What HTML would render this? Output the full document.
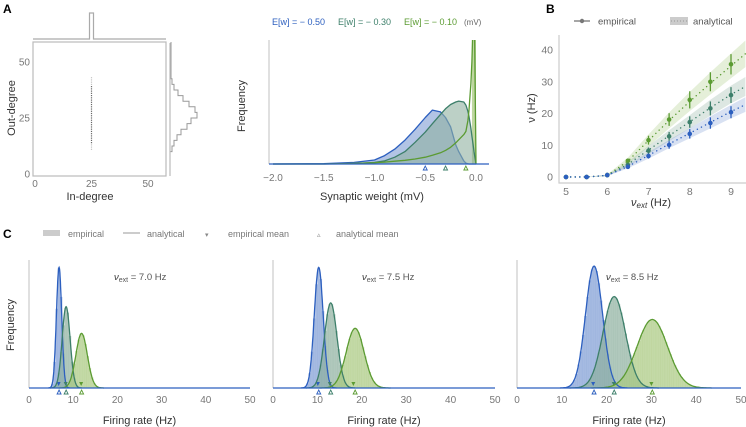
<!DOCTYPE html>
<html><head><meta charset="utf-8"><style>
html,body{margin:0;padding:0;background:#fff;}
svg{display:block;font-family:"Liberation Sans","DejaVu Sans",sans-serif;}
.tick{fill:#777;font-size:10px;}
.tickb{fill:#777;font-size:10.5px;}
.lab{fill:#333;font-size:11px;}
.pl{fill:#000;font-size:12px;font-weight:bold;}
</style></head><body>
<svg id="fig" width="746" height="427" viewBox="0 0 746 427" xmlns="http://www.w3.org/2000/svg">
<text class="pl" x="3" y="13">A</text>
<text class="pl" x="546" y="13">B</text>
<text class="pl" x="3" y="238">C</text>
</svg>
<script>
// ---------- data ----------
const inDegreeValue = 25;
const outDegreeValues = [11,12,13,14,15,16,17,18,19,20,21,22,23,24,25,26,27,28,29,30,31,32,33,34,35,36,37,38,39,40,41,42,43];
const outHistBins = [10,12.5,15,17.5,20,22.5,25,27.5,30,32.5,35,37.5,40,42.5];
const outHistCounts = [1,3,6,10,16,20,26,24,18,12,7,3,1,0];
const outTicks = [0,25,50];

const wX = [-2,-1.5,-1.2,-1.0,-0.9,-0.8,-0.7,-0.6,-0.5,-0.43,-0.35,-0.3,-0.25,-0.2,-0.17,-0.12,-0.1,-0.08,-0.07,-0.05,-0.04,-0.03,-0.02,0];
const blueW = [0,0.01,0.05,0.13,0.27,0.48,0.77,1.12,1.5,1.74,1.68,1.5,1.2,0.62,0.4,0.1,0.03,0.01,0,0,0,0,0,0];
const tealW = [0,0,0.01,0.05,0.1,0.22,0.4,0.7,1.03,1.3,1.6,1.78,1.92,2.0,2.03,2.0,1.9,1.7,1.55,1.15,0.9,0.65,0.4,0];
const greenW = [0,0,0.02,0.04,0.06,0.09,0.12,0.16,0.22,0.28,0.36,0.44,0.54,0.68,0.78,0.95,1.05,1.4,1.7,2.6,3.3,4.5,6,0];
const wTicks = [-2.0,-1.5,-1.0,-0.5,0.0];
const wMeans = [-0.5,-0.3,-0.1];
const wLegend = ["E[w] = \u2212 0.50","E[w] = \u2212 0.30","E[w] = \u2212 0.10"];

const nuExt = [5,5.5,6,6.5,7,7.5,8,8.5,9];
const empBlue = [0,0,0.6,3.2,6.6,10.1,13.6,17.0,20.4];
const empTeal = [0,0,0.6,3.8,8.3,12.8,17.3,21.6,25.8];
const empGreen = [0,0,0.6,5.1,11.6,18.1,24.3,30.0,35.5];
const errBlue = [0,0,0.2,0.5,0.8,1.2,1.5,1.8,1.9];
const errTeal = [0,0,0.2,0.6,1.0,1.4,1.8,2.2,2.5];
const errGreen = [0,0,0.2,0.7,1.4,2.0,2.7,3.0,3.2];
const nuAna = [5,5.5,6,6.5,7,7.5,8,8.5,9,9.35];
const anaBlue = [0,0,0.5,3.3,6.8,10.4,13.8,17.2,20.6,22.8];
const anaTeal = [0,0,0.5,4.0,8.5,13.0,17.4,21.8,26.0,28.5];
const anaGreen = [0,0,0.5,5.0,11.5,17.8,23.8,29.5,35.0,38.8];
const bandBlue = [0,0,0.2,0.6,1.0,1.3,1.6,1.9,2.1,2.3];
const bandTeal = [0,0,0.2,0.8,1.3,1.7,2.1,2.5,2.8,3.0];
const bandGreen = [0,0,0.3,1.1,1.9,2.5,3.0,3.5,3.9,4.2];
const nuTicks = [5,6,7,8,9];
const rateTicks = [0,10,20,30,40];

const cTitles = ["7.0 Hz","7.5 Hz","8.5 Hz"];
const cMeans = [[6.8,8.4,11.9],[10.3,13.0,18.5],[17.2,21.7,30.2]];
const cSds = [[0.6,0.9,1.3],[1.0,1.4,2.0],[1.9,2.5,3.4]];
const cPeaks = [[0.95,0.64,0.43],[0.95,0.67,0.47],[0.96,0.72,0.54]];
const cEmpMeans = [[6.7,8.3,11.8],[10.1,12.8,18.1],[17.0,21.6,30.0]];
const fTicks = [0,10,20,30,40,50];

// ---------- helpers ----------
const NS = "http://www.w3.org/2000/svg";
const svg = document.getElementById('fig');
const COL = ['#2c5fbf','#3d7f6a','#5b9b32'];
const FILL = ['#7f9cd4','#8fb0a0','#a9c980'];
function mk(tag, attrs, parent){const e=document.createElementNS(NS,tag);for(const k in attrs)e.setAttribute(k,attrs[k]);(parent||svg).appendChild(e);return e;}
function txt(s, attrs){const e=mk('text',attrs);e.textContent=s;return e;}
function lin(d0,d1,r0,r1){return v=>r0+(v-d0)*(r1-r0)/(d1-d0);}

// ---------- Panel A left ----------
{
const sx = lin(0,50,35,148), sy = lin(0,50,174,62);
const box = mk('rect',{x:33,y:42,width:133,height:134,fill:'none',stroke:'#bbb','stroke-width':1.2});


outDegreeValues.forEach(v=>{
  const op = (v<14||v>39)?0.35:0.9;
  const d = mk('rect',{x:sx(inDegreeValue)-0.6,y:sy(v)-0.6,width:1.2,height:1.2,fill:'#555',opacity:op});
  
  
});
outTicks.forEach(t=>{
  const a = txt(String(t),{class:'tick',x:sx(t),y:187,'text-anchor':'middle'});
  
  
  const b = txt(String(t),{class:'tick',x:30,y:sy(t)+3.5,'text-anchor':'end'});
  
  
});
const xl = txt('In-degree',{class:'lab',x:90,y:200,'text-anchor':'middle'});


const yl = txt('Out-degree',{class:'lab',x:0,y:0,'text-anchor':'middle',transform:'translate(15,108) rotate(-90)'});


const tp = mk('path',{d:`M33,39 H${sx(inDegreeValue)-2} V13 H${sx(inDegreeValue)+2} V39 H166`,fill:'none',stroke:'#aaa','stroke-width':1.2});


const hx = lin(0,26,171,197);
let d = `M170,176 V${sy(outHistBins[0])} `;
outHistBins.forEach((b,i)=>{d += `H${hx(outHistCounts[i])} V${sy(b+2.5)} `;});
d += `H171 V42`;
const rp = mk('path',{d:d,fill:'none',stroke:'#999','stroke-width':1});


const rb = mk('line',{x1:170,y1:43,x2:170,y2:176,stroke:'#bbb','stroke-width':1.2});


}

// ---------- Panel A right ----------
{
const sx = lin(-2,0,273,476), sy = lin(0,4,164,40);
const clip = mk('clipPath',{id:'wclip'});
mk('rect',{x:268,y:40,width:225,height:125},clip);
const ax = mk('line',{x1:269,y1:40,x2:269,y2:164,stroke:'#ccc','stroke-width':1.2});


const g = mk('g',{'clip-path':'url(#wclip)'});
const gb = mk('rect',{x:sx(-0.04),y:40,width:sx(0)-sx(-0.04),height:124,fill:FILL[2],opacity:0.75},g);


[blueW,tealW,greenW].forEach((arr,k)=>{
  const pts = wX.map((x,i)=>`${sx(x).toFixed(1)},${sy(arr[i]).toFixed(1)}`).join(' L');
  if(k<2){
    const f = mk('path',{d:`M${sx(-2)},164 L${pts} L${sx(0)},164 Z`,fill:FILL[k],opacity:0.6},g);
    
    
  }
  const l = mk('path',{d:`M${pts}`,fill:'none',stroke:COL[k],'stroke-width':1.3,'stroke-linejoin':'round'},g);
  
  
});
const base = mk('line',{x1:269,y1:164,x2:489,y2:164,stroke:COL[0],'stroke-width':1.3});


wMeans.forEach((m,k)=>{
  const t = mk('path',{d:`M${sx(m)-2},170 L${sx(m)+2},170 L${sx(m)},166 Z`,fill:'none',stroke:COL[k],'stroke-width':0.9});
  
  
});
wTicks.forEach(t=>{
  const a = txt(t.toFixed(1).replace('-','\u2212'),{class:'tick',x:sx(t),y:181,'text-anchor':'middle'});
  
  
});
const xl = txt('Synaptic weight (mV)',{class:'lab',x:372,y:200,'text-anchor':'middle'});


const yl = txt('Frequency',{class:'lab',x:0,y:0,'text-anchor':'middle',transform:'translate(245,106) rotate(-90)'});


const lx = [272,338,404];
wLegend.forEach((s,k)=>{
  const a = txt(s,{x:lx[k],y:25,fill:COL[k],'font-size':'9px'});
  
  
});
const u = txt('(mV)',{x:464,y:25,fill:'#666','font-size':'8px'});


}

// ---------- Panel B ----------
{
const sx = lin(5,9,566,731), sy = lin(0,40,177,50);
const ax = mk('path',{d:'M559,35 V183 H746',fill:'none',stroke:'#ccc','stroke-width':1.2});


const anas=[anaBlue,anaTeal,anaGreen], bands=[bandBlue,bandTeal,bandGreen], emps=[empBlue,empTeal,empGreen], errs=[errBlue,errTeal,errGreen];
[2,1,0].forEach(k=>{
  const up = nuAna.map((x,i)=>`${sx(x).toFixed(1)},${sy(anas[k][i]+bands[k][i]).toFixed(1)}`);
  const dn = nuAna.map((x,i)=>`${sx(x).toFixed(1)},${sy(anas[k][i]-bands[k][i]).toFixed(1)}`).reverse();
  const b = mk('path',{d:`M${up.join(' L')} L${dn.join(' L')} Z`,fill:FILL[k],opacity:0.3});
  
  
});
[2,1,0].forEach(k=>{
  const l = mk('path',{d:'M'+nuAna.map((x,i)=>`${sx(x).toFixed(1)},${sy(anas[k][i]).toFixed(1)}`).join(' L'),fill:'none',stroke:COL[k],'stroke-width':1.4,'stroke-dasharray':'0.1 4.5','stroke-linecap':'round'});
  
  
  nuExt.forEach((x,i)=>{
    const e = mk('line',{x1:sx(x),x2:sx(x),y1:sy(emps[k][i]-errs[k][i]),y2:sy(emps[k][i]+errs[k][i]),stroke:COL[k],'stroke-width':1.3});
    
    
    const c = mk('circle',{cx:sx(x),cy:sy(emps[k][i]),r:2.3,fill:COL[k]});
    
    
  });
});
nuTicks.forEach(t=>{
  const a = txt(String(t),{class:'tickb',x:sx(t),y:195,'text-anchor':'middle'});
  
  
});
rateTicks.forEach(t=>{
  const a = txt(String(t),{class:'tickb',x:553,y:sy(t)+3.5,'text-anchor':'end'});
  
  
});
const xl = mk('text',{class:'lab',x:651,y:206,'text-anchor':'middle'});
xl.innerHTML = '<tspan font-style="italic">ν</tspan><tspan font-size="8" dy="2" font-style="italic">ext</tspan><tspan dy="-2"> (Hz)</tspan>';


const yl = txt('ν (Hz)',{class:'lab',x:0,y:0,'text-anchor':'middle',transform:'translate(535,108) rotate(-90)'});


const l1 = mk('line',{x1:574,y1:21,x2:590,y2:21,stroke:'#888','stroke-width':1.5});


mk('circle',{cx:582,cy:21,r:2.2,fill:'#777'});
const t1 = txt('empirical',{x:598,y:24.5,fill:'#555','font-size':'9.5px'});


const r2 = mk('rect',{x:670,y:17,width:18,height:8,fill:'#ccc'});


mk('line',{x1:671,y1:21,x2:687,y2:21,stroke:'#999','stroke-dasharray':'1 2'});
const t2 = txt('analytical',{x:693,y:24.5,fill:'#555','font-size':'9.5px'});


}

// ---------- Panel C legend ----------
{
const a = mk('rect',{x:43,y:230,width:17,height:6,fill:'#ccc'});


const at = txt('empirical',{x:68,y:237,fill:'#777','font-size':'9px'});


const b = mk('line',{x1:123,y1:233,x2:140,y2:233,stroke:'#bbb','stroke-width':1.5});


const bt = txt('analytical',{x:147,y:237,fill:'#777','font-size':'9px'});


const c = txt('▾',{x:205,y:237,fill:'#888','font-size':'7px'});


const ct = txt('empirical mean',{x:228,y:237,fill:'#777','font-size':'9px'});


const d = txt('▵',{x:317,y:237,fill:'#888','font-size':'7px'});


const dt = txt('analytical mean',{x:336,y:237,fill:'#777','font-size':'9px'});


}

// ---------- Panel C subplots ----------
const cX0 = [29,273,517], cX1 = [250,495,741];
cTitles.forEach((title,p)=>{
  const sx = lin(0,50,cX0[p],cX1[p]), sy = lin(0,1,388,261);
  const ax = mk('line',{x1:cX0[p],y1:260,x2:cX0[p],y2:388,stroke:'#ccc','stroke-width':1.2});
  
  
  [0,1,2].forEach(k=>{
    const m=cMeans[p][k], s=cSds[p][k], h=cPeaks[p][k];
    const bw = 0.5;
    for(let x=Math.floor((m-3.5*s)/bw)*bw; x<m+3.5*s; x+=bw){
      const c = x+bw/2;
      const v = h*Math.exp(-0.5*((c-m)/s)**2);
      const r = mk('rect',{x:sx(x),y:sy(v),width:sx(x+bw)-sx(x)+0.2,height:388-sy(v),fill:FILL[k],opacity:0.7});
      
      
    }
  });
  [0,1,2].forEach(k=>{
    const m=cMeans[p][k], s=cSds[p][k], h=cPeaks[p][k];
    let pts=[];
    for(let x=m-4*s; x<=m+4*s; x+=s/10){pts.push(`${sx(x).toFixed(1)},${sy(h*Math.exp(-0.5*((x-m)/s)**2)).toFixed(1)}`);}
    const l = mk('path',{d:'M'+pts.join(' L'),fill:'none',stroke:COL[k],'stroke-width':1.3});
    
    
    const em = cEmpMeans[p][k];
    const t1 = mk('path',{d:`M${sx(em)-2},382 L${sx(em)+2},382 L${sx(em)},386 Z`,fill:COL[k]});
    
    
    const t2 = mk('path',{d:`M${sx(m)-2},394 L${sx(m)+2},394 L${sx(m)},390 Z`,fill:'none',stroke:COL[k],'stroke-width':0.9});
    
    
  });
  const base = mk('line',{x1:cX0[p],y1:388,x2:cX1[p],y2:388,stroke:COL[0],'stroke-width':1.3});
  
  
  fTicks.forEach(t=>{
    const a = txt(String(t),{class:'tick',x:sx(t),y:403,'text-anchor':'middle'});
    
    
  });
  const xl = txt('Firing rate (Hz)',{class:'lab',x:sx(25),y:424,'text-anchor':'middle'});
  
  
  const an = mk('text',{x:[114,362,606][p],y:280,fill:'#555','font-size':'9.5px'});
  an.innerHTML = '<tspan font-style="italic" fill="#333">ν</tspan><tspan font-size="7" dy="2">ext</tspan><tspan dy="-2"> = '+title+'</tspan>';
  
  
});
const fy = txt('Frequency',{class:'lab',x:0,y:0,'text-anchor':'middle',transform:'translate(14,325) rotate(-90)'});


</script>
</body></html>
